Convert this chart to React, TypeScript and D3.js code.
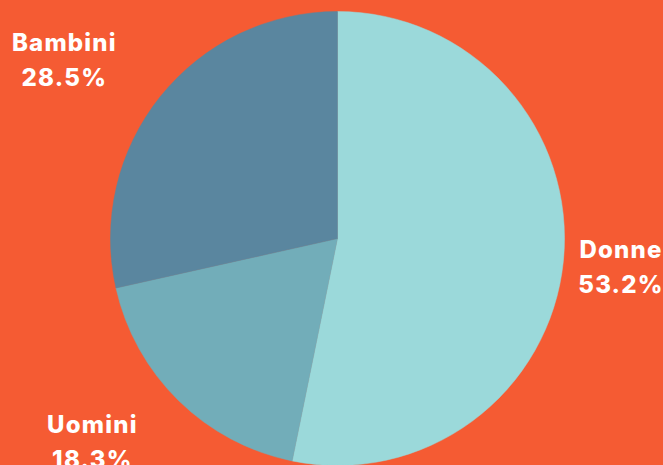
import React, { useEffect } from "react";
import * as d3 from "d3";

const categories = ["Donne", "Uomini", "Bambini"];
const values = [53.2, 18.3, 28.5];
const colors = ["#9bd9da", "#72adb9", "#5a869f"];

const W = 663;
const H = 465;

export default function App() {
  useEffect(() => {
    document.body.style.margin = "0";
    document.body.style.background = "#f55b33";
  }, []);

  const cx = 337.5;
  const cy = 238.5;
  const R = 227;

  const pie = d3.pie<number>().sort(null).value((d) => d);
  const arcs = pie(values);
  const arcGen = d3.arc<d3.PieArcDatum<number>>().innerRadius(0).outerRadius(R);

  const Rx = 350;
  const Ry = 285;

  return (
    <svg width={W} height={H} style={{ display: "block" }}>
      <rect x={0} y={0} width={W} height={H} fill="#f55b33" />
      <g transform={`translate(${cx},${cy})`}>
        {arcs.map((a, i) => (
          <path key={i} d={arcGen(a) || ""} fill={colors[i]} stroke={colors[i]} strokeWidth={0.5} />
        ))}
      </g>
      {arcs.map((a, i) => {
        const mid = (a.startAngle + a.endAngle) / 2;
        const half = 42;
        let x = cx + Math.sin(mid) * Rx;
        x = Math.max(half + 8, Math.min(W - half, x));
        const y = cy - Math.cos(mid) * Ry;
        return (
          <text
            key={i}
            x={x}
            textAnchor="middle"
            fill="#ffffff"
            fontFamily="Inter, 'Open Sans', sans-serif"
            fontWeight={800}
            fontSize={24}
            letterSpacing={1.2}
          >
            <tspan x={x} y={y - 9}>{categories[i]}</tspan>
            <tspan x={x} y={y + 26}>{d3.format(".1f")(values[i])}%</tspan>
          </text>
        );
      })}
    </svg>
  );
}
